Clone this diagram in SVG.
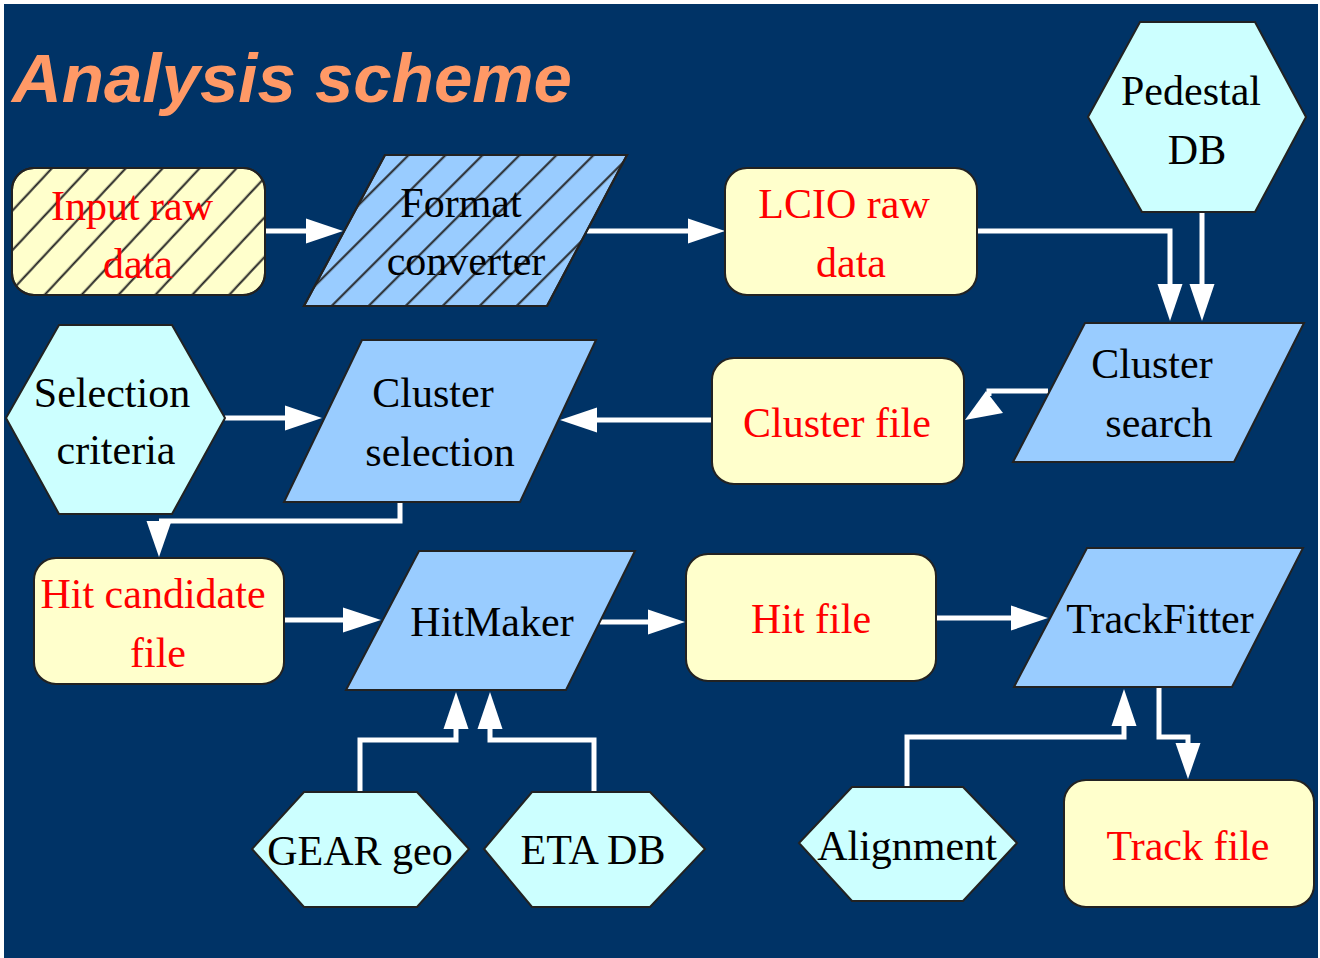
<svg xmlns="http://www.w3.org/2000/svg" width="1320" height="958" viewBox="0 0 1320 958">
<style>
.file{fill:#FFFFCC;stroke:#222;stroke-width:2}
.proc{fill:#99CCFF;stroke:#222;stroke-width:2}
.db{fill:#CCFFFF;stroke:#222;stroke-width:2}
.hatch{stroke:#222;stroke-width:2}
.t{font-family:"Liberation Serif","Times New Roman",serif;font-size:42px;text-anchor:middle}
.red{fill:#FF0000}
.blk{fill:#000}
.wire{fill:none;stroke:#FFFFFF;stroke-width:5}
.ah{fill:#FFFFFF}
</style>
<defs>
<pattern id="h1" patternUnits="userSpaceOnUse" width="27" height="20" patternTransform="rotate(43)">
<line class="hatch" x1="17.7" y1="-5" x2="17.7" y2="25"/>
</pattern>
<pattern id="h2" patternUnits="userSpaceOnUse" width="26.16" height="20" patternTransform="rotate(45)">
<line class="hatch" x1="6.15" y1="-5" x2="6.15" y2="25"/>
</pattern>
</defs>
<rect x="0" y="0" width="1320" height="958" fill="#FFFFFF"/>
<rect x="4" y="4" width="1314" height="954" fill="#003366"/>
<text x="12" y="102" font-family="'Liberation Sans',Arial,sans-serif" font-size="69" font-weight="bold" font-style="italic" fill="#FF9966">Analysis scheme</text>

<g id="connectors">
<path class="wire" d="M265,231 H306"/><polygon class="ah" points="306,218.5 306,243.5 343,231"/>
<path class="wire" d="M587,231 H688"/><polygon class="ah" points="688,218.5 688,243.5 725,231"/>
<path class="wire" d="M977,231 H1170 V284"/><polygon class="ah" points="1157.5,284 1182.5,284 1170,321"/>
<path class="wire" d="M1202,212 V284"/><polygon class="ah" points="1189.5,284 1214.5,284 1202,321"/>
<path class="wire" d="M1048,391 H989 V396"/><polygon class="ah" points="986,391 1003,413 965,420"/>
<path class="wire" d="M712,420 H597"/><polygon class="ah" points="597,407.5 597,432.5 560,420"/>
<path class="wire" d="M225,418 H285"/><polygon class="ah" points="285,405.5 285,430.5 322,418"/>
<path class="wire" d="M400,502 V521 H159"/><polygon class="ah" points="146.5,521 171.5,521 159,557"/>
<path class="wire" d="M284,620 H343"/><polygon class="ah" points="343,607.5 343,632.5 381,620"/>
<path class="wire" d="M600,622 H648"/><polygon class="ah" points="648,609.5 648,634.5 685,622"/>
<path class="wire" d="M360,792 V740 H456 V729"/><polygon class="ah" points="443.5,729 468.5,729 456,692"/>
<path class="wire" d="M594,792 V740 H490 V729"/><polygon class="ah" points="477.5,729 502.5,729 490,692"/>
<path class="wire" d="M936,618 H1011"/><polygon class="ah" points="1011,605.5 1011,630.5 1048,618"/>
<path class="wire" d="M1159,687 V737 H1188 V743"/><polygon class="ah" points="1175.5,743 1200.5,743 1188,779"/>
<path class="wire" d="M907,787 V737 H1124 V726"/><polygon class="ah" points="1111.5,726 1136.5,726 1124,689"/>
</g>

<g id="input-raw-data">
<rect class="file" x="12" y="168" width="253" height="127" rx="22"/>
<rect x="12" y="168" width="253" height="127" rx="22" fill="url(#h1)" stroke="#222" stroke-width="2"/>
<text class="t red" x="132" y="220">Input raw</text>
<text class="t red" x="138" y="278">data</text>
</g>
<g id="format-converter">
<polygon class="proc" points="385,155 627,155 547,306 304,306"/>
<polygon points="385,155 627,155 547,306 304,306" fill="url(#h2)" stroke="#222" stroke-width="2"/>
<text class="t blk" x="461" y="217">Format</text>
<text class="t blk" x="466" y="275">converter</text>
</g>
<g id="lcio-raw-data">
<rect class="file" x="725" y="168" width="252" height="127" rx="22"/>
<text class="t red" x="844" y="218">LCIO raw</text>
<text class="t red" x="851" y="277">data</text>
</g>
<g id="pedestal-db">
<polygon class="db" points="1140,22 1255,22 1306,117 1255,212 1142,212 1088,117"/>
<text class="t blk" x="1191" y="105">Pedestal</text>
<text class="t blk" x="1197" y="164">DB</text>
</g>
<g id="cluster-search">
<polygon class="proc" points="1085,323 1304,323 1234,462 1013,462"/>
<text class="t blk" x="1152" y="378">Cluster</text>
<text class="t blk" x="1159" y="437">search</text>
</g>
<g id="cluster-file">
<rect class="file" x="712" y="358" width="252" height="126" rx="22"/>
<text class="t red" x="837" y="437">Cluster file</text>
</g>
<g id="cluster-selection">
<polygon class="proc" points="362,340 596,340 520,502 284,502"/>
<text class="t blk" x="433" y="407">Cluster</text>
<text class="t blk" x="440" y="466">selection</text>
</g>
<g id="selection-criteria">
<polygon class="db" points="59,325 172,325 225,418 172,514 59,514 6,418"/>
<text class="t blk" x="112" y="407">Selection</text>
<text class="t blk" x="116" y="464">criteria</text>
</g>
<g id="hit-candidate-file">
<rect class="file" x="34" y="558" width="250" height="126" rx="22"/>
<text class="t red" x="153" y="608">Hit candidate</text>
<text class="t red" x="158" y="667">file</text>
</g>
<g id="hitmaker">
<polygon class="proc" points="419,551 635,551 566,690 346,690"/>
<text class="t blk" x="492" y="636">HitMaker</text>
</g>
<g id="gear-geo">
<polygon class="db" points="304,792 417,792 469,849 417,907 304,907 252,849"/>
<text class="t blk" x="360" y="865">GEAR geo</text>
</g>
<g id="eta-db">
<polygon class="db" points="532,792 650,792 705,849 650,907 532,907 484,849"/>
<text class="t blk" x="593" y="864">ETA DB</text>
</g>
<g id="hit-file">
<rect class="file" x="686" y="554" width="250" height="127" rx="22"/>
<text class="t red" x="811" y="633">Hit file</text>
</g>
<g id="trackfitter">
<polygon class="proc" points="1087,548 1303,548 1232,687 1014,687"/>
<text class="t blk" x="1160" y="633">TrackFitter</text>
</g>
<g id="alignment">
<polygon class="db" points="852,787 963,787 1017,843 963,901 852,901 799,843"/>
<text class="t blk" x="907" y="860">Alignment</text>
</g>
<g id="track-file">
<rect class="file" x="1064" y="780" width="250" height="127" rx="22"/>
<text class="t red" x="1188" y="860">Track file</text>
</g>
</svg>
